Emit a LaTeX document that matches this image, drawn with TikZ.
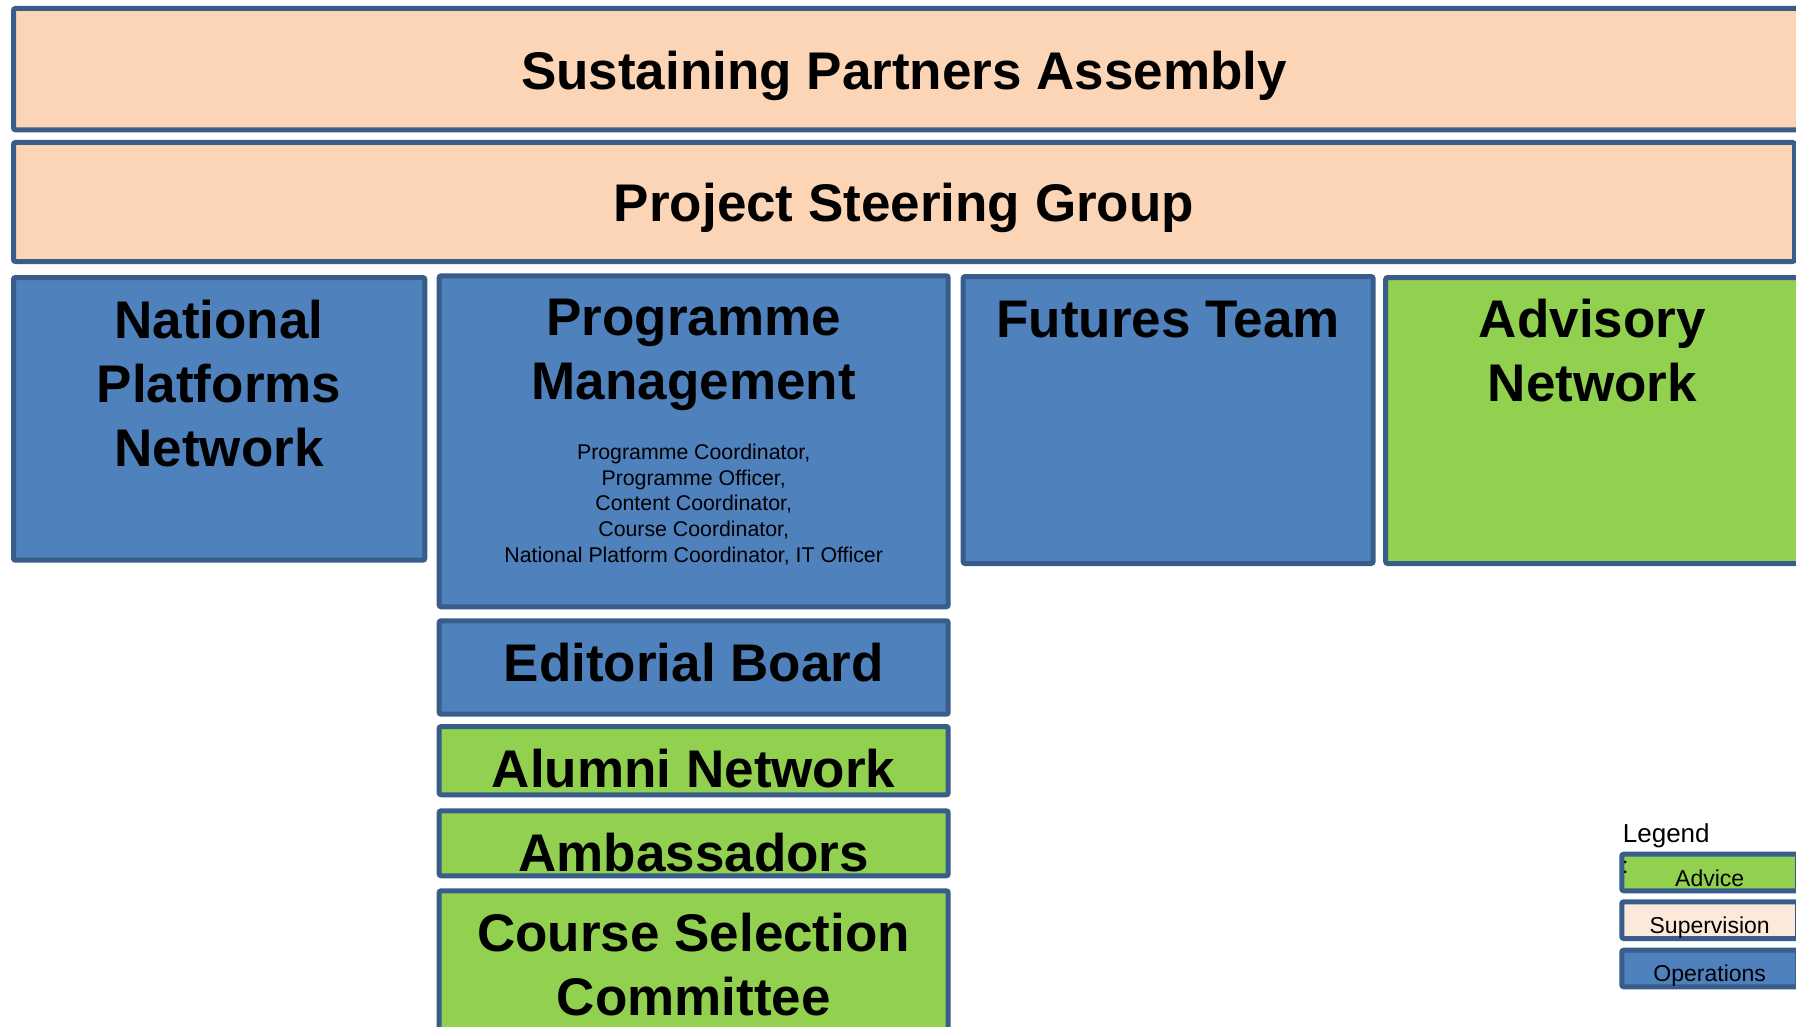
\documentclass[tikz,border=0pt]{standalone}
\usepackage{fontspec}
\setmainfont{Liberation Sans}
\definecolor{edge}{HTML}{385D8A}
\definecolor{opsblue}{HTML}{4F81BD}
\definecolor{suppeach}{HTML}{FBD5B5}
\definecolor{keypeach}{HTML}{FDE9D9}
\definecolor{advgreen}{HTML}{92D050}
\begin{document}
\begin{tikzpicture}[x=1pt,y=-1pt,
  unit/.style={draw=edge, line width=5pt, rounded corners=2pt, inner sep=0pt, outer sep=0pt},
  ops/.style={unit, fill=opsblue},
  sup/.style={unit, fill=suppeach},
  adv/.style={unit, fill=advgreen},
  % multi-line labels are placed by the baseline of their last line
  head/.style={font=\bfseries\fontsize{53}{64}\selectfont, align=center, anchor=base, inner sep=0pt},
  staff/.style={font=\fontsize{21.3}{25.75}\selectfont, align=center, anchor=base, inner sep=0pt},
  keytext/.style={font=\fontsize{23}{27}\selectfont, anchor=base, inner sep=0pt}]
\useasboundingbox (0,0) rectangle (1796,1027);
\fill[white] (0,0) rectangle (1796,1027);

% governance layers
\node[sup, minimum width=1786pt, minimum height=121.3pt] (spa) at (906.5,69.15) {};
\node[head] (spaT) at (904,90) {Sustaining Partners Assembly};
\node[sup, minimum width=1781pt, minimum height=119pt] (psg) at (904,202) {};
\node[head] (psgT) at (904,221.7) {Project Steering Group};

% main units
\node[ops, minimum width=411.3pt, minimum height=282.7pt] (npn) at (219.15,418.85) {};
\node[head] (npnT) at (219,466.7) {National\\Platforms\\Network};

\node[ops, minimum width=509pt, minimum height=331pt] (pm) at (693.7,441.3) {};
\node[head] (pmT) at (693.7,399.3) {Programme\\Management};
\node[staff] (pmS) at (693.7,562.3) {Programme Coordinator,\\Programme Officer,\\Content Coordinator,\\Course Coordinator,\\National Platform Coordinator, IT Officer};

\node[ops, minimum width=409.9pt, minimum height=287pt] (ft) at (1168.15,420) {};
\node[head] (ftT) at (1168.15,337.3) {Futures Team};

\node[adv, minimum width=413.8pt, minimum height=286pt] (an) at (1592.6,420.5) {};
\node[head] (anT) at (1592.3,401.7) {Advisory\\Network};

% bodies under programme management
\node[ops, minimum width=509pt, minimum height=93.4pt] (eb) at (693.7,667.5) {};
\node[head] (ebT) at (693.7,681.7) {Editorial Board};
\node[adv, minimum width=509pt, minimum height=68.3pt] (al) at (693.7,760.65) {};
\node[head] (alT) at (693.7,787.7) {Alumni Network};
\node[adv, minimum width=509pt, minimum height=65pt] (am) at (693.7,843.3) {};
\node[head] (amT) at (693.7,871.7) {Ambassadors};
\node[adv, minimum width=509pt, minimum height=151.7pt] (csc) at (693.7,966.65) {};
\node[head] (cscT) at (693.7,1015) {Course Selection\\Committee};

% legend
\node[font=\fontsize{26}{30}\selectfont, anchor=base west, inner sep=0pt] (lgT) at (1622.7,842.3) {Legend};
\node[adv, minimum width=175.7pt, minimum height=36.6pt] (kadv) at (1709.65,872.5) {};
\node[keytext] (kadvT) at (1709.7,886) {Advice};
\node[keytext, anchor=base west] (kdots) at (1622,873) {:};
\node[unit, fill=keypeach, minimum width=175.7pt, minimum height=36.7pt] (ksup) at (1709.65,920.15) {};
\node[keytext] (ksupT) at (1709.7,933.3) {Supervision};
\node[ops, minimum width=175.7pt, minimum height=36.6pt] (kops) at (1709.65,968.5) {};
\node[keytext] (kopsT) at (1709.7,981.7) {Operations};
\end{tikzpicture}
\end{document}
